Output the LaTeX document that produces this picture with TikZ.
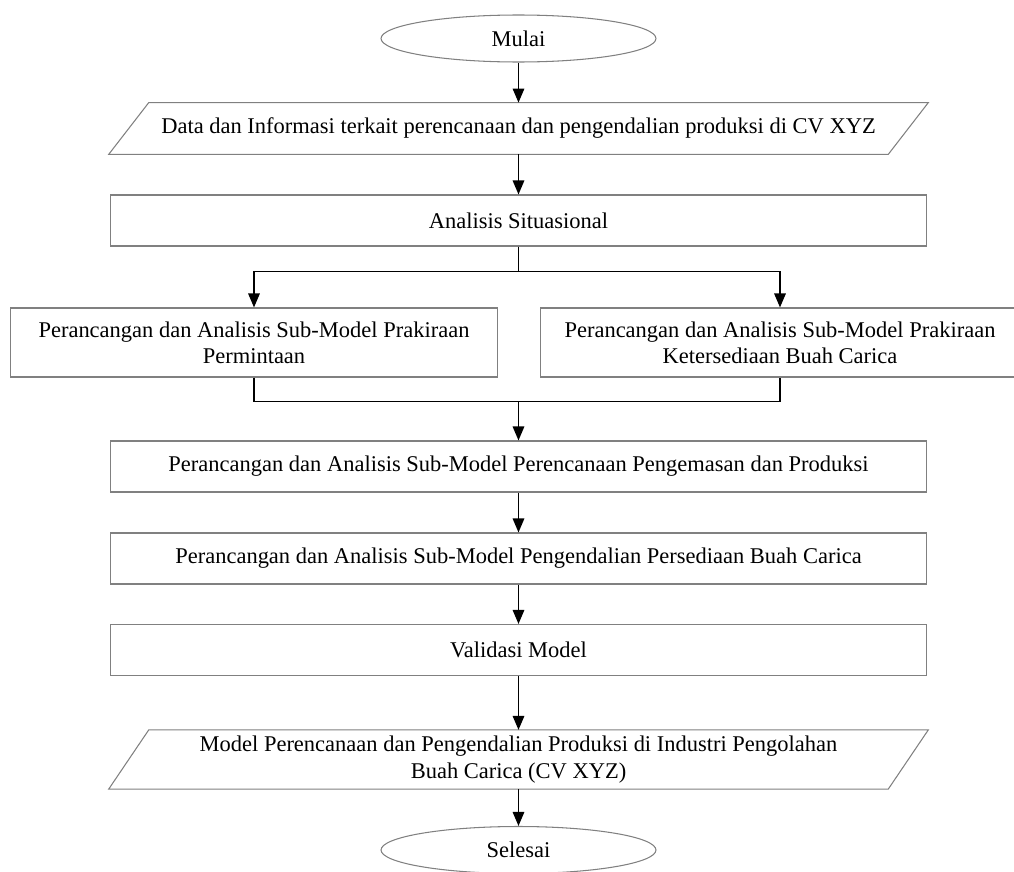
\documentclass[tikz,border=0pt]{standalone}
\usepackage{fontspec}
\setmainfont{Liberation Serif}
\usetikzlibrary{arrows.meta,positioning,calc,shapes.geometric}

\begin{document}
\begin{tikzpicture}[
    x=0.02cm, y=-0.02cm,
    font=\fontsize{12.8}{15}\selectfont,
    box/.style={draw=black!50, line width=0.6pt, minimum width=16.34cm, minimum height=1.02cm, align=center},
    subbox/.style={draw=black!50, line width=0.6pt, minimum height=1.38cm, align=center},
    term/.style={draw=black!50, line width=0.6pt, ellipse, minimum width=5.5cm, minimum height=0.94cm},
    io/.style={minimum width=15.58cm, minimum height=1.02cm, align=center},
    line/.style={line width=1.1pt},
    arrow/.style={-{Triangle[length=8pt,width=6.5pt]}, line width=1.1pt}
]
\useasboundingbox (0,0) rectangle (1014,872);
\node[term] (mulai) at (518.5,38.5) {Mulai};
\node[io] (data) at (518.5,128.5) {Data dan Informasi terkait perencanaan dan pengendalian produksi di CV XYZ};
\draw[draw=black!50, line width=0.6pt] ($(data.north west)+(20,0)$) -- ($(data.north east)+(20,0)$) -- ($(data.south east)+(-20,0)$) -- ($(data.south west)+(-20,0)$) -- cycle;
\node[box] (situ) at (518.5,220.5) {Analisis Situasional};
\node[subbox, minimum width=9.76cm] (minta) at (254,342.5) {Perancangan dan Analisis Sub-Model Prakiraan\\Permintaan};
\node[subbox, minimum width=9.6cm] (sedia) at (780,342.5) {Perancangan dan Analisis Sub-Model Prakiraan\\Ketersediaan Buah Carica};
\node[box] (kemas) at (518.5,466.5) {Perancangan dan Analisis Sub-Model Perencanaan Pengemasan dan Produksi};
\node[box] (kendali) at (518.5,558.5) {Perancangan dan Analisis Sub-Model Pengendalian Persediaan Buah Carica};
\node[box] (valid) at (518.5,650) {Validasi Model};
\node[io] (model) at (518.5,759.5) {Model Perencanaan dan Pengendalian Produksi di Industri Pengolahan\\Buah Carica (CV XYZ)};
\draw[draw=black!50, line width=0.6pt] ($(model.north west)+(20,0)$) -- ($(model.north east)+(20,0)$) -- ($(model.south east)+(-20,0)$) -- ($(model.south west)+(-20,0)$) -- cycle;
\node[term] (selesai) at (518.5,850) {Selesai};
\coordinate (join) at ($(kemas.north)+(0,-39)$);
\draw[arrow] (mulai.south) -- (data.north);
\draw[arrow] (data.south) -- (situ.north);
\draw[arrow] (situ.south) -- ++(0,25) -| (minta.north);
\draw[arrow] (situ.south) -- ++(0,25) -| (sedia.north);
\draw[line] (minta.south) |- (join) -| (sedia.south);
\draw[arrow] (join) -- (kemas.north);
\draw[arrow] (kemas.south) -- (kendali.north);
\draw[arrow] (kendali.south) -- (valid.north);
\draw[arrow] (valid.south) -- (model.north);
\draw[arrow] (model.south) -- (selesai.north);
\end{tikzpicture}
\end{document}
